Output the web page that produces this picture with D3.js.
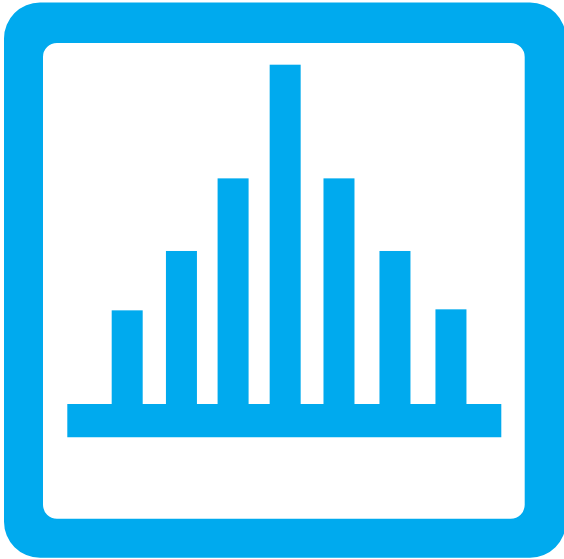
<!DOCTYPE html>
<html>
<head>
<meta charset="utf-8">
<style>html,body{margin:0;padding:0;background:#fff;overflow:hidden}svg{display:block}</style>
<script src="https://cdnjs.cloudflare.com/ajax/libs/d3/7.8.5/d3.min.js"></script>
</head>
<body>
<script>
const categories = ["a", "b", "c", "d", "e", "f", "g"];
const binCenters = [13.8, 26.3, 38.2, 50.2, 62.6, 75.5, 88.4];
const values = [27.6, 45.1, 66.5, 100, 66.5, 45.1, 27.9];
const xDomain = [0, 100];
const yDomain = [0, 100];
const baseDepth = [9.8];

const W = 564, H = 559, color = "#00AAEE";
const svg = d3.select("body").append("svg").attr("width", W).attr("height", H);

const x = d3.scaleLinear().domain(xDomain).range([67.3, 501.3]);
const y = d3.scaleLinear().domain(yDomain).range([404, 64.7]);
const barW = 31;

function rr(p, x0, y0, x1, y1, r) {
  p.moveTo(x0 + r, y0); p.lineTo(x1 - r, y0); p.arcTo(x1, y0, x1, y0 + r, r);
  p.lineTo(x1, y1 - r); p.arcTo(x1, y1, x1 - r, y1, r);
  p.lineTo(x0 + r, y1); p.arcTo(x0, y1, x0, y1 - r, r);
  p.lineTo(x0, y0 + r); p.arcTo(x0, y0, x0 + r, y0, r); p.closePath();
}
const frame = d3.path();
rr(frame, 4, 2.5, 566, 557.7, 36);
rr(frame, 43, 43, 524.7, 518.8, 14);
svg.append("path").attr("d", frame.toString()).attr("fill", color).attr("fill-rule", "evenodd");

svg.selectAll("rect.bar").data(categories).join("rect").attr("class", "bar")
  .attr("x", (d, i) => x(binCenters[i]) - barW / 2)
  .attr("width", barW)
  .attr("y", (d, i) => y(values[i]))
  .attr("height", (d, i) => y(0) - y(values[i]))
  .attr("fill", color);

svg.selectAll("rect.base").data(baseDepth).join("rect").attr("class", "base")
  .attr("x", x(xDomain[0]))
  .attr("width", x(xDomain[1]) - x(xDomain[0]))
  .attr("y", y(0))
  .attr("height", d => y(-d) - y(0))
  .attr("fill", color);
</script>
</body>
</html>
